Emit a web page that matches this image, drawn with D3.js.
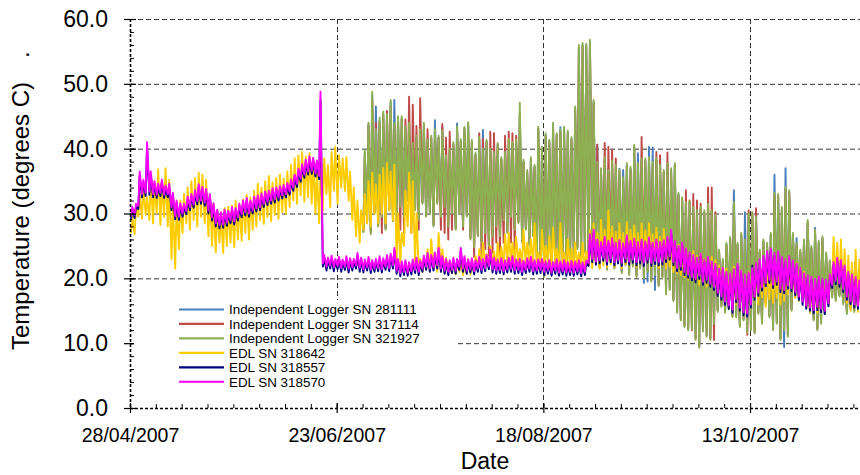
<!DOCTYPE html>
<html>
<head>
<meta charset="utf-8">
<script src="https://cdn.jsdelivr.net/npm/d3@7"></script>
<style>
  html, body { margin: 0; padding: 0; background: #fff; }
  svg { display: block; font-family: "Liberation Sans", Arial, sans-serif; }
</style>
</head>
<body>
<svg id="chart" width="860" height="475"></svg>
<script>
// Daily temperature records (degrees C), one low and one high reading per day,
// starting 28/04/2007. Logger series start on day 63.
const startDate = "28/04/2007";
const loggerStartDay = 63;

const xTickLabels = ["28/04/2007", "23/06/2007", "18/08/2007", "13/10/2007"];
const yTickValues = [0, 10, 20, 30, 40, 50, 60];

const seriesNames = [
  "Independent Logger SN 281111",
  "Independent Logger SN 317114",
  "Independent Logger SN 321927",
  "EDL SN 318642",
  "EDL SN 318557",
  "EDL SN 318570"
];
const seriesColors = ["#4A7EBB", "#BE4B48", "#8FB052", "#FFCC00", "#000080", "#FF00FF"];

// Independent Logger SN 281111 (days 63..197)
const sn281111High = [
  39.5, 43.8, 48.3, 46.5, 44.4, 45.4, 45.0,
  47.2, 47.5, 44.7, 44.7, 43.1, 43.7, 40.6, 41.7, 42.7, 43.7,
  41.1, 41.7, 44.4, 41.7, 43.4, 38.7, 39.7, 40.7, 43.9, 41.2,
  43.1, 43.8, 41.1, 39.1, 41.5, 42.9, 41.1, 39.7, 39.2, 40.6,
  38.4, 39.2, 41.2, 40.7, 41.1, 44.9, 38.0, 36.4, 38.4, 37.2,
  43.1, 40.0, 42.1, 41.1, 43.7, 42.1, 43.3, 43.1, 42.5, 41.5,
  46.2, 55.7, 56.0, 55.9, 56.5, 47.2, 40.6, 36.7, 38.4, 36.4,
  37.9, 36.9, 36.9, 36.7, 37.5, 36.9, 40.3, 39.3, 38.2, 38.2,
  40.3, 40.2, 38.3, 37.2, 36.4, 37.5, 36.7, 37.5, 32.9, 32.2,
  31.5, 31.7, 30.7, 30.2, 30.7, 30.2, 31.2, 30.2, 29.5, 24.1,
  22.7, 25.2, 26.1, 33.6, 25.2, 26.7, 30.2, 29.7, 29.9, 29.2,
  24.1, 25.7, 25.2, 26.7, 36.0, 32.7, 30.7, 37.0, 33.3, 26.7,
  26.2, 24.1, 25.7, 28.7, 24.7, 27.8, 25.5, 26.2, 23.7, 22.5,
  21.5, 20.7, 22.2, 21.2, 20.2, 21.5, 22.5, 21.2
];
const sn281111Low = [
  27.3, 28.8, 27.1, 30.3, 28.3, 29.8, 27.8,
  30.8, 29.1, 29.3, 31.3, 29.8, 32.3, 28.8, 30.8, 29.3, 31.8,
  29.8, 30.3, 28.3, 31.8, 29.8, 31.3, 28.3, 30.3, 27.8, 30.3,
  28.3, 29.8, 26.3, 25.1, 26.8, 25.8, 27.3, 25.3, 26.8, 28.3,
  26.8, 29.3, 27.3, 29.8, 27.8, 28.8, 25.8, 27.8, 25.3, 26.8,
  22.8, 21.8, 20.5, 22.3, 21.3, 22.3, 20.8, 22.8, 21.3, 23.1,
  23.8, 24.8, 23.1, 24.3, 23.3, 24.8, 22.8, 21.8, 23.3, 21.6,
  23.1, 21.8, 22.8, 21.1, 22.3, 20.8, 22.1, 20.5, 21.8, 19.3,
  19.5, 19.8, 18.2, 19.1, 20.3, 17.8, 18.5, 16.8, 15.0, 13.8,
  12.8, 12.3, 12.5, 10.8, 9.6, 12.1, 11.3, 10.8, 13.3, 15.1,
  15.9, 15.0, 15.5, 14.3, 14.3, 12.8, 13.8, 11.9, 12.3, 11.8,
  14.8, 13.3, 16.3, 14.3, 12.3, 13.3, 10.8, 9.4, 11.3, 15.3,
  17.3, 16.8, 17.8, 15.8, 15.0, 13.8, 12.3, 13.3, 14.8, 16.1,
  17.3, 16.8, 17.5, 16.3, 14.8, 15.5, 15.1, 15.8
];

// Independent Logger SN 317114 (days 63..197)
const sn317114High = [
  39.0, 43.5, 47.5, 44.0, 44.0, 45.2, 45.8,
  46.5, 43.6, 44.5, 44.6, 44.5, 48.0, 46.8, 43.5, 47.8, 43.0,
  43.0, 41.6, 42.5, 41.6, 43.8, 41.7, 42.6, 40.6, 43.0, 41.0,
  43.0, 43.6, 41.0, 39.0, 42.4, 41.5, 41.0, 42.6, 42.4, 40.5,
  38.3, 42.0, 42.6, 42.4, 42.0, 45.5, 37.9, 36.3, 38.3, 37.1,
  43.0, 39.9, 42.0, 41.0, 43.6, 42.0, 42.6, 43.0, 42.4, 41.4,
  46.0, 55.5, 55.8, 55.7, 56.2, 47.0, 40.6, 36.6, 40.9, 40.3,
  39.8, 38.5, 36.4, 35.2, 37.4, 36.8, 40.2, 37.4, 41.8, 38.1,
  38.3, 37.6, 39.5, 39.0, 36.3, 39.4, 36.6, 37.4, 32.8, 32.1,
  33.6, 32.0, 33.0, 32.0, 31.5, 30.1, 34.0, 34.0, 30.2, 24.0,
  22.6, 25.1, 26.0, 31.4, 25.1, 26.6, 25.6, 30.5, 30.2, 30.8,
  24.0, 25.6, 25.1, 26.6, 32.8, 32.6, 30.6, 33.7, 33.2, 26.6,
  25.1, 24.0, 25.6, 28.6, 24.6, 27.1, 25.4, 26.1, 23.6, 22.4,
  21.4, 20.6, 22.1, 21.1, 20.1, 21.4, 22.4, 21.1
];
const sn317114Low = [
  27.2, 28.7, 27.0, 30.2, 28.2, 27.0, 27.7,
  30.7, 29.0, 29.2, 27.5, 27.0, 32.2, 27.0, 30.7, 27.5, 31.7,
  29.7, 30.2, 28.2, 31.7, 27.5, 27.0, 26.0, 27.5, 27.7, 30.2,
  27.5, 29.7, 26.2, 23.3, 26.7, 23.5, 24.5, 23.5, 24.0, 25.5,
  24.0, 25.5, 27.2, 25.5, 24.5, 28.7, 25.7, 27.7, 25.2, 26.7,
  22.7, 21.7, 20.4, 22.2, 21.2, 22.2, 20.7, 22.7, 21.2, 23.0,
  23.7, 24.7, 23.0, 24.2, 23.2, 24.7, 22.7, 21.7, 23.2, 21.5,
  23.0, 21.7, 22.7, 21.0, 22.2, 20.7, 22.0, 20.4, 21.7, 20.2,
  21.2, 19.7, 20.7, 19.0, 20.2, 17.7, 18.4, 16.7, 14.9, 13.7,
  12.7, 12.2, 12.0, 10.7, 9.5, 12.0, 11.2, 10.7, 10.5, 15.0,
  15.8, 14.9, 15.4, 14.2, 14.2, 12.7, 13.7, 11.3, 12.2, 11.7,
  14.7, 13.2, 16.2, 14.2, 12.2, 13.2, 10.7, 12.2, 11.2, 15.2,
  17.2, 16.7, 17.7, 15.7, 14.9, 13.7, 12.2, 13.2, 14.7, 16.0,
  17.2, 16.7, 17.4, 16.2, 14.7, 15.4, 15.0, 15.7
];

// Independent Logger SN 321927 (days 63..197)
const sn321927High = [
  39.8, 44.0, 48.8, 43.0, 44.8, 45.7, 45.3,
  47.5, 44.0, 45.0, 45.0, 43.4, 44.0, 40.9, 42.0, 43.0, 44.0,
  41.4, 42.0, 43.0, 42.0, 42.8, 39.0, 40.0, 41.0, 43.4, 41.5,
  43.4, 44.1, 41.4, 39.4, 41.8, 40.0, 41.4, 40.0, 39.5, 40.9,
  38.7, 39.5, 41.5, 41.0, 41.4, 47.1, 38.3, 36.7, 38.7, 37.5,
  43.4, 40.3, 42.4, 41.4, 44.0, 42.4, 43.0, 43.4, 42.8, 41.8,
  46.5, 56.0, 56.3, 56.2, 56.8, 47.5, 38.0, 37.0, 38.7, 36.7,
  38.2, 37.5, 36.8, 35.6, 37.8, 37.2, 40.6, 37.8, 38.5, 38.5,
  38.7, 38.0, 38.6, 37.5, 36.7, 37.8, 37.0, 37.8, 33.2, 32.5,
  31.8, 32.0, 31.0, 30.5, 31.0, 30.5, 31.5, 30.5, 29.8, 24.4,
  23.0, 25.5, 26.4, 31.8, 25.5, 27.0, 26.0, 30.0, 30.2, 29.5,
  24.4, 26.0, 25.5, 27.0, 33.2, 33.0, 31.0, 34.1, 33.6, 27.0,
  25.5, 24.4, 26.0, 29.0, 25.0, 27.5, 25.8, 26.5, 24.0, 22.8,
  21.8, 21.0, 22.5, 21.5, 20.5, 21.8, 22.8, 21.5
];
const sn321927Low = [
  27.0, 28.5, 26.8, 30.0, 28.0, 29.5, 27.5,
  30.5, 28.8, 29.0, 31.0, 29.5, 32.0, 28.5, 30.5, 29.0, 31.5,
  29.5, 30.0, 28.0, 31.5, 29.5, 31.0, 28.0, 30.0, 27.5, 30.0,
  28.0, 29.5, 26.0, 24.8, 26.5, 25.5, 27.0, 25.0, 26.5, 28.0,
  26.5, 29.0, 27.0, 29.5, 27.5, 28.5, 25.5, 27.5, 25.0, 26.5,
  22.5, 21.5, 20.2, 22.0, 21.0, 22.0, 20.5, 22.5, 21.0, 22.8,
  23.5, 24.5, 22.8, 24.0, 23.0, 24.5, 22.5, 21.5, 23.0, 21.3,
  22.8, 21.5, 22.5, 20.8, 22.0, 20.5, 21.8, 20.2, 21.5, 20.0,
  21.0, 19.5, 20.5, 18.8, 20.0, 17.5, 18.2, 16.5, 14.7, 13.5,
  12.5, 12.0, 12.2, 10.5, 9.3, 11.8, 11.0, 10.5, 13.0, 14.8,
  15.6, 14.7, 15.2, 14.0, 14.0, 12.5, 13.5, 11.6, 12.0, 11.5,
  14.5, 13.0, 16.0, 14.0, 12.0, 13.0, 10.5, 12.0, 11.0, 15.0,
  17.0, 16.5, 17.5, 15.5, 14.7, 13.5, 12.0, 13.0, 14.5, 15.8,
  17.0, 16.5, 17.2, 16.0, 14.5, 15.2, 14.8, 15.5
];

// EDL SN 318642 (days 0..197)
const sn318642High = [
  29.5, 31.0, 33.0, 34.0, 32.5, 35.5, 34.2, 36.8, 35.0, 37.0,
  35.2, 31.8, 31.5, 32.0, 33.0, 34.0, 35.0, 35.5, 36.3, 36.0,
  35.2, 33.0, 31.5, 30.5, 30.0, 30.8, 31.0, 31.2, 32.0, 31.5,
  32.2, 32.9, 32.5, 33.5, 34.6, 34.0, 35.0, 35.8, 34.8, 35.5,
  36.0, 35.4, 36.5, 37.5, 38.5, 39.0, 39.5, 38.8, 39.3, 38.5,
  37.0, 36.5, 38.5, 37.5, 39.5, 40.3, 39.0, 38.5, 38.7, 36.5,
  34.0, 32.0, 30.5, 33.0, 35.0, 36.3, 34.5, 36.0, 37.0, 37.8,
  36.5, 37.5, 30.0, 27.0, 33.5, 36.3, 35.0, 30.0, 23.0, 23.5,
  24.5, 26.0, 24.0, 27.0, 24.5, 23.2, 22.5, 22.8, 22.4, 22.8,
  22.2, 23.0, 22.5, 23.4, 24.5, 25.5, 23.8, 25.0, 24.2, 25.5,
  24.8, 26.8, 27.0, 25.5, 26.4, 24.5, 27.5, 25.5, 26.0, 28.5,
  24.0, 27.5, 25.0, 26.5, 27.8, 24.5, 28.5, 24.0, 26.0, 24.5,
  25.5, 24.0, 25.5, 24.2, 27.5, 28.5, 27.0, 29.0, 27.5, 30.5,
  28.0, 27.2, 28.5, 27.0, 28.7, 27.5, 28.2, 27.0, 28.5, 27.4,
  28.5, 26.8, 27.8, 26.4, 27.6, 26.0, 25.5, 24.8, 25.2, 24.0,
  24.6, 23.8, 24.2, 23.5, 23.8, 23.0, 22.6, 23.3, 22.8, 22.0,
  21.5, 21.5, 20.8, 21.8, 20.5, 21.2, 20.2, 21.0, 22.0, 21.5,
  22.5, 22.8, 22.0, 22.6, 21.8, 22.8, 22.2, 22.5, 22.0, 21.5,
  22.4, 21.6, 21.0, 19.3, 18.8, 19.0, 18.2, 18.8, 19.3, 20.5,
  26.4, 25.5, 26.0, 24.5, 23.5, 22.4, 24.4, 23.0
];
const sn318642Low = [
  27.0, 26.8, 29.5, 29.2, 29.8, 29.0, 28.5, 30.0, 28.2, 29.5,
  28.0, 23.0, 21.5, 24.5, 27.0, 28.5, 27.5, 29.0, 28.0, 29.5,
  28.5, 26.5, 25.0, 24.0, 25.5, 23.9, 25.0, 25.5, 24.8, 26.0,
  25.8, 27.0, 26.0, 27.5, 28.0, 29.0, 28.4, 29.5, 28.8, 29.8,
  29.2, 30.2, 30.0, 31.0, 32.0, 31.5, 32.8, 31.8, 32.5, 31.5,
  30.0, 28.5, 30.5, 33.0, 31.0, 33.5, 31.5, 34.0, 33.5, 32.0,
  29.0, 26.5, 25.5, 27.5, 28.5, 28.0, 30.0, 28.5, 30.0, 28.5,
  30.5, 29.0, 22.8, 22.5, 25.0, 28.0, 27.0, 22.5, 21.2, 21.0,
  21.4, 21.2, 21.5, 21.0, 21.3, 20.8, 21.0, 20.8, 20.6, 21.0,
  20.5, 20.8, 20.6, 20.9, 21.5, 21.8, 22.0, 21.6, 22.2, 21.9,
  22.4, 22.0, 22.5, 22.2, 22.6, 22.0, 22.4, 22.0, 22.6, 22.2,
  22.6, 22.0, 22.4, 22.6, 22.0, 22.4, 22.0, 21.6, 22.2, 21.5,
  22.0, 21.4, 21.8, 21.3, 22.0, 21.6, 22.2, 21.5, 22.0, 21.8,
  22.2, 21.8, 22.4, 21.6, 22.2, 22.0, 22.5, 21.8, 22.3, 22.0,
  22.4, 21.8, 22.2, 21.6, 22.0, 21.5, 21.8, 21.0, 20.8, 20.5,
  20.2, 19.8, 20.0, 19.5, 19.0, 19.2, 18.7, 18.9, 18.5, 18.0,
  17.8, 16.5, 15.8, 15.2, 16.0, 15.0, 14.8, 15.5, 16.2, 16.8,
  16.0, 17.1, 15.6, 16.8, 16.2, 17.0, 16.0, 16.5, 17.5, 18.2,
  17.0, 17.8, 16.8, 15.5, 14.8, 15.6, 14.7, 15.2, 15.8, 16.0,
  18.5, 19.3, 18.8, 18.0, 16.2, 15.0, 15.6, 14.8
];

// EDL SN 318557 (days 0..197)
const sn318557High = [
  30.6, 31.0, 35.8, 34.8, 40.2, 36.0, 34.6, 34.1, 34.8, 33.9,
  34.1, 32.8, 31.6, 31.2, 31.1, 32.1, 32.6, 33.1, 34.0, 33.7,
  33.3, 32.6, 31.2, 30.2, 29.8, 30.2, 30.0, 30.6, 30.4, 31.0,
  31.6, 32.0, 31.6, 32.1, 32.4, 32.7, 33.0, 33.1, 33.5, 33.6,
  33.8, 34.0, 34.3, 34.8, 35.6, 36.4, 37.1, 37.8, 38.3, 38.2,
  37.8, 47.5, 23.1, 22.8, 23.0, 22.6, 22.9, 22.5, 23.0, 22.7,
  22.6, 23.4, 22.8, 22.5, 22.9, 22.4, 22.6, 23.0, 22.7, 23.2,
  23.4, 24.2, 22.6, 22.2, 22.4, 22.1, 22.5, 22.8, 22.3, 23.1,
  23.5, 23.2, 23.6, 24.2, 23.0, 22.6, 22.4, 22.8, 22.6, 24.2,
  23.0, 22.5, 22.7, 22.4, 22.9, 22.6, 23.2, 24.0, 22.8, 22.5,
  22.7, 22.4, 22.8, 23.0, 22.5, 22.6, 22.3, 22.7, 22.9, 22.4,
  22.5, 22.6, 22.2, 22.4, 22.1, 22.5, 22.2, 22.4, 22.1, 22.3,
  22.2, 22.4, 22.1, 22.3, 26.2, 27.0, 25.6, 25.2, 26.0, 25.4,
  25.8, 25.1, 25.5, 25.0, 26.2, 25.4, 25.7, 25.2, 25.6, 25.3,
  25.9, 25.1, 25.6, 25.2, 25.5, 26.0, 27.0, 25.4, 24.6, 25.1,
  24.2, 23.6, 23.2, 22.8, 23.4, 22.5, 22.9, 22.2, 21.8, 21.1,
  21.2, 20.6, 20.4, 21.0, 21.8, 20.8, 20.2, 20.5, 22.0, 22.0,
  22.5, 23.1, 23.8, 24.2, 23.5, 23.8, 22.9, 22.5, 23.0, 22.4,
  21.9, 21.2, 20.4, 20.1, 19.8, 19.5, 19.9, 19.6, 19.4, 20.2,
  22.1, 22.8, 22.4, 21.6, 20.6, 20.2, 19.8, 19.4
];
const sn318557Low = [
  29.0, 29.3, 30.7, 32.5, 32.7, 32.9, 32.5, 32.4, 32.7, 32.4,
  32.5, 30.5, 29.1, 29.0, 29.5, 29.9, 30.5, 30.9, 31.4, 31.5,
  31.2, 30.0, 28.9, 28.0, 27.7, 27.8, 28.1, 28.5, 28.3, 28.9,
  29.4, 29.7, 29.5, 30.0, 30.3, 30.5, 31.0, 31.3, 31.5, 31.7,
  32.0, 32.3, 32.5, 32.9, 33.5, 34.1, 34.9, 35.5, 36.0, 36.1,
  35.7, 35.3, 21.8, 21.2, 21.5, 21.1, 21.4, 21.0, 21.3, 20.9,
  21.2, 21.5, 21.0, 20.9, 21.2, 20.8, 21.0, 21.1, 20.9, 21.3,
  21.1, 21.5, 20.7, 20.3, 20.5, 20.4, 20.6, 20.8, 20.5, 21.0,
  21.3, 21.0, 21.2, 21.5, 21.0, 20.7, 20.5, 20.8, 20.7, 21.3,
  21.0, 20.7, 20.9, 20.6, 21.0, 20.8, 21.1, 21.4, 20.9, 20.7,
  20.8, 20.6, 20.9, 21.0, 20.7, 20.8, 20.5, 20.8, 21.0, 20.6,
  20.7, 20.8, 20.5, 20.7, 20.4, 20.7, 20.4, 20.6, 20.4, 20.5,
  20.4, 20.6, 20.3, 20.5, 21.9, 22.5, 22.1, 22.3, 22.7, 22.1,
  22.5, 22.0, 22.3, 21.9, 22.5, 22.1, 22.4, 22.0, 22.3, 21.9,
  22.4, 21.9, 22.2, 22.0, 22.1, 22.5, 22.9, 22.0, 21.1, 21.3,
  20.5, 20.1, 19.7, 19.4, 19.9, 19.0, 19.3, 18.7, 18.2, 17.3,
  16.7, 15.9, 15.3, 14.7, 16.3, 15.0, 14.3, 14.1, 15.5, 16.7,
  17.3, 18.1, 18.8, 19.3, 18.5, 19.0, 17.9, 17.7, 18.4, 18.0,
  17.4, 16.7, 15.9, 15.3, 15.0, 14.6, 15.1, 14.8, 14.5, 15.7,
  18.5, 19.1, 18.7, 17.9, 16.7, 16.0, 15.5, 15.3
];

// EDL SN 318570 (days 0..197)
const sn318570High = [
  31.0, 31.5, 36.5, 35.2, 41.0, 36.5, 35.0, 34.6, 35.2, 34.3,
  34.6, 33.2, 32.0, 31.6, 31.5, 32.6, 33.0, 33.6, 34.5, 34.1,
  33.8, 33.0, 31.6, 30.6, 30.2, 30.6, 30.4, 31.0, 30.8, 31.5,
  32.0, 32.4, 32.0, 32.6, 32.8, 33.1, 33.4, 33.5, 33.9, 34.0,
  34.2, 34.4, 34.7, 35.2, 36.0, 36.9, 37.6, 38.3, 38.8, 38.6,
  38.2, 48.8, 23.6, 23.2, 23.5, 23.0, 23.3, 22.9, 23.4, 23.1,
  23.0, 23.9, 23.2, 22.9, 23.3, 22.8, 23.0, 23.4, 23.1, 23.6,
  23.8, 24.7, 23.0, 22.6, 22.8, 22.5, 22.9, 23.2, 22.7, 23.5,
  23.9, 23.6, 24.0, 24.7, 23.4, 23.0, 22.8, 23.2, 23.0, 24.7,
  23.4, 22.9, 23.1, 22.8, 23.3, 23.0, 23.6, 24.4, 23.2, 22.9,
  23.1, 22.8, 23.2, 23.4, 22.9, 23.0, 22.7, 23.1, 23.3, 22.8,
  22.9, 23.0, 22.6, 22.8, 22.5, 22.9, 22.6, 22.8, 22.5, 22.7,
  22.6, 22.8, 22.5, 22.7, 26.8, 27.5, 26.0, 25.6, 26.4, 25.8,
  26.2, 25.5, 25.9, 25.4, 26.6, 25.8, 26.1, 25.6, 26.0, 25.7,
  26.3, 25.5, 26.0, 25.6, 25.9, 26.4, 27.5, 25.8, 25.0, 25.5,
  24.6, 24.0, 23.6, 23.2, 23.8, 22.9, 23.3, 22.6, 22.2, 21.5,
  21.6, 21.0, 20.8, 21.4, 22.2, 21.2, 20.6, 20.9, 21.6, 22.4,
  22.9, 23.5, 24.2, 24.6, 23.9, 24.2, 23.3, 22.9, 23.4, 22.8,
  22.3, 21.6, 20.8, 20.5, 20.2, 19.9, 20.3, 20.0, 19.8, 20.6,
  22.5, 23.2, 22.8, 22.0, 21.0, 20.6, 20.2, 19.8
];
const sn318570Low = [
  29.5, 29.8, 31.2, 33.0, 33.2, 33.4, 33.0, 32.9, 33.2, 32.9,
  33.0, 31.0, 29.6, 29.5, 30.0, 30.4, 31.0, 31.4, 31.9, 32.0,
  31.7, 30.5, 29.4, 28.5, 28.2, 28.3, 28.6, 29.0, 28.8, 29.4,
  29.9, 30.2, 30.0, 30.5, 30.8, 31.0, 31.5, 31.8, 32.0, 32.2,
  32.5, 32.8, 33.0, 33.4, 34.0, 34.6, 35.4, 36.0, 36.5, 36.6,
  36.2, 35.8, 22.3, 21.8, 22.0, 21.7, 21.9, 21.6, 21.8, 21.5,
  21.7, 22.0, 21.6, 21.4, 21.7, 21.3, 21.5, 21.6, 21.4, 21.8,
  21.6, 22.0, 21.2, 20.8, 21.0, 20.9, 21.1, 21.3, 21.0, 21.5,
  21.8, 21.5, 21.7, 22.0, 21.5, 21.2, 21.0, 21.3, 21.2, 21.8,
  21.5, 21.2, 21.4, 21.1, 21.5, 21.3, 21.6, 21.9, 21.4, 21.2,
  21.3, 21.1, 21.4, 21.5, 21.2, 21.3, 21.0, 21.3, 21.5, 21.1,
  21.2, 21.3, 21.0, 21.2, 20.9, 21.2, 20.9, 21.1, 20.9, 21.0,
  20.9, 21.1, 20.8, 21.0, 22.4, 23.0, 22.6, 22.8, 23.2, 22.6,
  23.0, 22.5, 22.8, 22.4, 23.0, 22.6, 22.9, 22.5, 22.8, 22.4,
  22.9, 22.4, 22.7, 22.5, 22.6, 23.0, 23.4, 22.5, 21.6, 21.8,
  21.0, 20.6, 20.2, 19.9, 20.4, 19.5, 19.8, 19.2, 18.7, 17.8,
  17.2, 16.4, 15.8, 15.2, 16.8, 15.5, 14.8, 14.6, 16.0, 17.2,
  17.8, 18.6, 19.3, 19.8, 19.0, 19.5, 18.4, 18.2, 18.9, 18.5,
  17.9, 17.2, 16.4, 15.8, 15.5, 15.1, 15.6, 15.3, 15.0, 16.2,
  19.0, 19.6, 19.2, 18.4, 17.2, 16.5, 16.0, 15.8
];

const seriesLows = [sn281111Low, sn317114Low, sn321927Low, sn318642Low, sn318557Low, sn318570Low];
const seriesHighs = [sn281111High, sn317114High, sn321927High, sn318642High, sn318557High, sn318570High];
const seriesFirstDay = [loggerStartDay, loggerStartDay, loggerStartDay, 0, 0, 0];

// ---- layout ----
const svg = d3.select("#chart");
const margin = { left: 130, right: 860, top: 19, bottom: 408 };
const DAY = 864e5;
const parseDate = d3.utcParse("%d/%m/%Y");
const t0 = parseDate(startDate);

const x = d3.scaleUtc()
  .domain([t0, new Date(+t0 + 197.8 * DAY)])
  .range([margin.left, margin.right]);
const y = d3.scaleLinear().domain([0, 60]).range([margin.bottom, margin.top]);

const fontFamily = '"Liberation Sans", Arial, sans-serif';
const majorDates = xTickLabels.map(parseDate);
const minorDates = d3.range(0, 198, 7).map(d => new Date(+t0 + d * DAY));
const minorY = d3.range(0, 61, 2);

// gridlines
const grid = svg.append("g").attr("class", "grid")
  .attr("stroke", "#333").attr("stroke-width", 1).attr("stroke-dasharray", "5,3");
grid.selectAll("line.h").data(yTickValues.filter(v => v > 0)).join("line")
  .attr("class", "h")
  .attr("x1", margin.left).attr("x2", margin.right)
  .attr("y1", d => y(d) + 0.5).attr("y2", d => y(d) + 0.5);
grid.selectAll("line.v").data(majorDates.slice(1)).join("line")
  .attr("class", "v")
  .attr("x1", d => Math.round(x(d)) + 0.5).attr("x2", d => Math.round(x(d)) + 0.5)
  .attr("y1", margin.top).attr("y2", margin.bottom);

// series: a low then a high reading for each day
const line = d3.line().x(d => x(d.t)).y(d => y(d.v));
const plot = svg.append("g").attr("class", "series")
  .attr("fill", "none").attr("stroke-width", 1.9).attr("stroke-linejoin", "round");

seriesNames.forEach((name, i) => {
  const pts = [];
  seriesLows[i].forEach((lo, k) => {
    const day = seriesFirstDay[i] + k;
    pts.push({ t: new Date(+t0 + (day + 0.25) * DAY), v: lo });
    pts.push({ t: new Date(+t0 + (day + 0.62) * DAY), v: seriesHighs[i][k] });
  });
  plot.append("path").datum(pts)
    .attr("stroke", seriesColors[i])
    .attr("d", line);
});

// axes
const yAxis = svg.append("g")
  .attr("transform", `translate(${margin.left},0)`)
  .call(d3.axisLeft(y).tickValues(yTickValues).tickFormat(d3.format(".1f")).tickSize(6).tickPadding(16));
yAxis.select(".domain").remove();
yAxis.selectAll(".tick line").attr("x1", -6).attr("x2", 6).attr("stroke", "#000").attr("stroke-width", 1.2);
yAxis.selectAll(".tick text")
  .attr("font-family", fontFamily).attr("font-size", 23).attr("fill", "#000").attr("x", -22);

const yMinor = svg.append("g")
  .attr("transform", `translate(${margin.left},0)`)
  .call(d3.axisRight(y).tickValues(minorY).tickSize(4).tickFormat(""));
yMinor.select(".domain").remove();
yMinor.selectAll(".tick line").attr("stroke", "#000");

const xAxis = svg.append("g")
  .attr("transform", `translate(0,${margin.bottom})`)
  .call(d3.axisBottom(x).tickValues(majorDates).tickFormat(d3.utcFormat("%d/%m/%Y")).tickSize(5).tickPadding(15));
xAxis.select(".domain").remove();
xAxis.selectAll(".tick line").attr("y1", -5).attr("y2", 5).attr("stroke", "#000").attr("stroke-width", 1.2);
xAxis.selectAll(".tick text")
  .attr("font-family", fontFamily).attr("font-size", 19.5).attr("fill", "#000");

const xMinor = svg.append("g")
  .attr("transform", `translate(0,${margin.bottom})`)
  .call(d3.axisTop(x).tickValues(minorDates).tickSize(4).tickFormat(""));
xMinor.select(".domain").remove();
xMinor.selectAll(".tick line").attr("stroke", "#000");

// dashed axis lines
svg.append("line")
  .attr("x1", margin.left + 0.5).attr("x2", margin.left + 0.5)
  .attr("y1", margin.top).attr("y2", margin.bottom)
  .attr("stroke", "#000").attr("stroke-width", 1.6).attr("stroke-dasharray", "3,2");
svg.append("line")
  .attr("x1", margin.left).attr("x2", margin.right)
  .attr("y1", margin.bottom + 0.5).attr("y2", margin.bottom + 0.5)
  .attr("stroke", "#000").attr("stroke-width", 1.6).attr("stroke-dasharray", "3,2");

// axis titles
svg.append("text")
  .attr("transform", "translate(29,350) rotate(-90)")
  .attr("font-family", fontFamily).attr("font-size", 24).attr("fill", "#000")
  .text("Temperature (degrees C)");
svg.append("text")
  .attr("transform", "translate(29,58) rotate(-90)")
  .attr("font-family", fontFamily).attr("font-size", 24).attr("fill", "#000")
  .text(".");
svg.append("text")
  .attr("x", 485).attr("y", 469).attr("text-anchor", "middle")
  .attr("font-family", fontFamily).attr("font-size", 23).attr("fill", "#000")
  .text("Date");

// legend
const legend = svg.append("g").attr("class", "legend");
legend.append("rect")
  .attr("x", 134).attr("y", 300).attr("width", 321).attr("height", 103).attr("fill", "#fff");
const items = legend.selectAll("g.item").data(seriesNames).join("g")
  .attr("class", "item")
  .attr("transform", (d, i) => `translate(0,${309.5 + i * 14.45})`);
items.append("line")
  .attr("x1", 179).attr("x2", 224).attr("y1", 0).attr("y2", 0)
  .attr("stroke", (d, i) => seriesColors[i]).attr("stroke-width", 2.2);
items.append("text")
  .attr("x", 229).attr("y", 4.8)
  .attr("font-family", fontFamily).attr("font-size", 13.4).attr("fill", "#000")
  .text(d => d);
</script>
</body>
</html>
